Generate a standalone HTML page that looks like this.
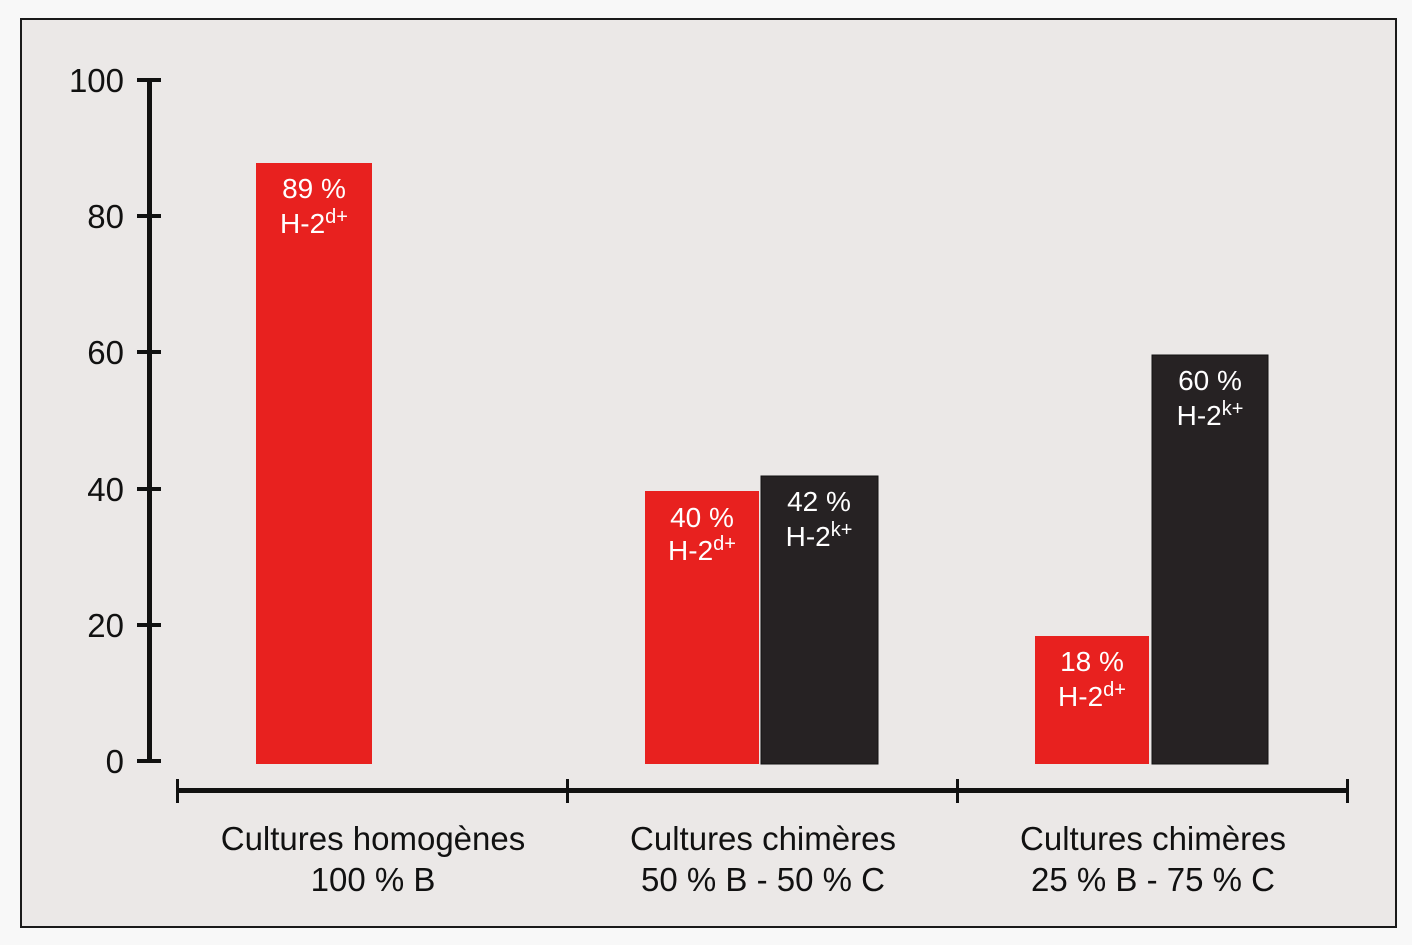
<!DOCTYPE html>
<html><head><style>
body{margin:0;background:#fafafa;}
svg{display:block}
text{font-family:"Liberation Sans",sans-serif;}
</style></head><body>
<svg width="1412" height="945" xmlns="http://www.w3.org/2000/svg">
<rect x="0" y="0" width="1412" height="945" fill="#f8f8f8"/>
<rect x="21" y="19" width="1375" height="908" fill="#ebe8e7" stroke="#1a1a1a" stroke-width="2"/>
<rect x="147" y="80" width="5" height="683" fill="#111"/>
<g fill="#111">
<rect x="137" y="78" width="24" height="4"/>
<rect x="137" y="214" width="24" height="4"/>
<rect x="137" y="350" width="24" height="4"/>
<rect x="137" y="487" width="24" height="4"/>
<rect x="137" y="623" width="24" height="4"/>
<rect x="137" y="759" width="24" height="4"/>
</g>
<g font-size="33" fill="#111" text-anchor="end">
<text x="124" y="92">100</text>
<text x="124" y="228">80</text>
<text x="124" y="364">60</text>
<text x="124" y="501">40</text>
<text x="124" y="637">20</text>
<text x="124" y="773">0</text>
</g>
<rect x="178" y="788" width="1171" height="5" fill="#111"/>
<g fill="#111">
<rect x="176" y="779" width="3" height="24"/>
<rect x="566" y="779" width="3" height="24"/>
<rect x="956" y="779" width="3" height="24"/>
<rect x="1346" y="779" width="3" height="24"/>
</g>
<rect x="256" y="163" width="116" height="601" fill="#e8211f"/>
<rect x="645" y="491" width="114" height="273" fill="#e8211f"/>
<rect x="761" y="476" width="117" height="288" fill="#262223" stroke="#111" stroke-width="1"/>
<rect x="1035" y="636" width="114" height="128" fill="#e8211f"/>
<rect x="1152" y="355" width="116" height="409" fill="#262223" stroke="#111" stroke-width="1"/>
<g font-size="28" fill="#fff" text-anchor="middle">
<text x="314" y="198">89 %</text>
<text x="314" y="233">H-2<tspan font-size="20" dy="-10">d+</tspan></text>
<text x="702" y="527">40 %</text>
<text x="702" y="560">H-2<tspan font-size="20" dy="-10">d+</tspan></text>
<text x="819" y="511">42 %</text>
<text x="819" y="546">H-2<tspan font-size="20" dy="-10">k+</tspan></text>
<text x="1092" y="671">18 %</text>
<text x="1092" y="706">H-2<tspan font-size="20" dy="-10">d+</tspan></text>
<text x="1210" y="390">60 %</text>
<text x="1210" y="425">H-2<tspan font-size="20" dy="-10">k+</tspan></text>
</g>
<g font-size="33" fill="#111" text-anchor="middle">
<text x="373" y="850">Cultures homogènes</text>
<text x="373" y="891">100 % B</text>
<text x="763" y="850">Cultures chimères</text>
<text x="763" y="891">50 % B - 50 % C</text>
<text x="1153" y="850">Cultures chimères</text>
<text x="1153" y="891">25 % B - 75 % C</text>
</g>
</svg>
</body></html>
